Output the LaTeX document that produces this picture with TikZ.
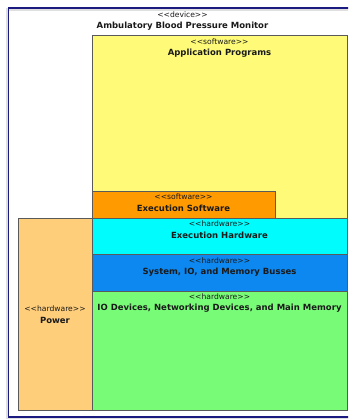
\documentclass[tikz,border=0pt]{standalone}
\usepackage{fontspec}
\setmainfont{DejaVu Sans}
\definecolor{framecol}{HTML}{1A1A80}
\definecolor{boxline}{HTML}{5A5A5A}
\definecolor{appcol}{HTML}{FFFB78}
\definecolor{swcol}{HTML}{FF9A00}
\definecolor{powcol}{HTML}{FFCE7A}
\definecolor{hwcol}{HTML}{00FCFC}
\definecolor{buscol}{HTML}{0D88F0}
\definecolor{iocol}{HTML}{78FC78}
\definecolor{txtcol}{HTML}{1A1A1A}
\newcommand{\stereotxt}[1]{\textless{}\textless{}#1\textgreater{}\textgreater{}}
\tikzset{
  blk/.style={draw=boxline, line width=0.9pt, anchor=north west, inner sep=0pt, outer sep=0pt},
  stereo/.style={font=\fontsize{7.6}{9}\selectfont, text=txtcol, inner sep=0pt},
  bname/.style={font=\fontsize{8.5}{10}\selectfont\bfseries, text=txtcol, inner sep=0pt},
}
\begin{document}
\begin{tikzpicture}[x=1pt,y=-1pt]
\useasboundingbox (0,0) rectangle (348,419);
\clip (0,0) rectangle (348,419);
\fill[white] (0,0) rectangle (348,419);
% frame shadow and frame
\draw[gray!25, line width=3pt] (7,9.5) rectangle (360,418.5);
\draw[framecol, line width=1.6pt] (8.5,8) rectangle (360,417);
\node[stereo] (devst) at (182.5,14.5) {\stereotxt{device}};
\node[bname] (devname) at (182.5,26) {Ambulatory Blood Pressure Monitor};
% boxes
\node[blk, fill=appcol, minimum width=255pt, minimum height=183pt] (app) at (92,35.5) {};
\node[blk, fill=swcol, minimum width=183pt, minimum height=27.5pt] (exsw) at (92,191) {};
\node[blk, fill=powcol, minimum width=74pt, minimum height=191.5pt] (pow) at (18,218.5) {};
\node[blk, fill=hwcol, minimum width=255pt, minimum height=36pt] (exhw) at (92,218.5) {};
\node[blk, fill=buscol, minimum width=255pt, minimum height=36.5pt] (bus) at (92,254.5) {};
\node[blk, fill=iocol, minimum width=255pt, minimum height=119pt] (io) at (92,291) {};
% labels
\node[stereo] (appst) at (219.5,41.7) {\stereotxt{software}};
\node[bname] (appname) at (219.5,53.3) {Application Programs};
\node[stereo] (exswst) at (183.5,196.5) {\stereotxt{software}};
\node[bname] (exswname) at (183.5,208) {Execution Software};
\node[stereo] (exhwst) at (219.5,224) {\stereotxt{hardware}};
\node[bname] (exhwname) at (219.5,235.7) {Execution Hardware};
\node[stereo] (busst) at (219.5,260.7) {\stereotxt{hardware}};
\node[bname] (busname) at (219.5,272) {System, IO, and Memory Busses};
\node[stereo] (iost) at (219.5,296.5) {\stereotxt{hardware}};
\node[bname] (ioname) at (219.5,308) {IO Devices, Networking Devices, and Main Memory};
\node[stereo] (powst) at (55,308.5) {\stereotxt{hardware}};
\node[bname] (powname) at (55,320) {Power};
\end{tikzpicture}
\end{document}
